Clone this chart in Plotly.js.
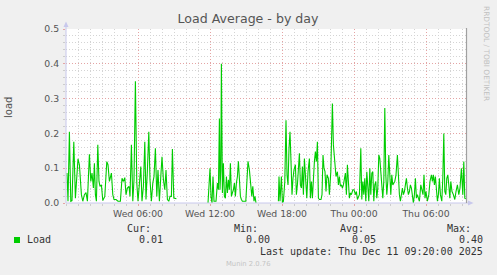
<!DOCTYPE html>
<html>
<head>
<meta charset="utf-8">
<script src="https://cdn.plot.ly/plotly-3.0.1.min.js"></script>
<style>html,body{margin:0;padding:0;background:#f0f0f0;}#chart{width:497px;height:275px;}</style>
</head>
<body>
<div id="chart"></div>
<script>
// Sample times: minutes since Wed 2025-12-10 00:00 (null load = no data)
const minutes = [
5,10,17,24,30,39,47,52,60,67,72,77,84,92,100,107,117,124,130,137,142,147,152,159,165,170,177,184,194,204,210,217,227,234,240,250,260,272,280,287,294,300,307,315,320,327,334,340,347,354,360,367,374,380,387,394,400,407,414,420,427,434,440,447,454,460,467,474,480,487,494,500,507,514,520,527,532,539,545,552,
560,
710,715,720,725,730,735,740,745,750,757,762,767,770,774,777,782,787,792,797,802,807,812,817,822,827,832,837,842,847,852,857,862,867,872,877,882,890,899,904,910,917,924,929,934,940,945,950,
960,
1062,1065,1070,1077,1082,1087,1094,1100,1105,1110,1115,1120,1125,1130,1135,1140,1147,1152,1157,1162,1167,1172,1177,1182,1187,1192,1197,1204,1210,1217,1222,1227,1232,1237,1242,1247,1252,1257,1262,1267,1275,1280,1285,1290,1295,1300,1305,
1312,1317,1324,1332,1337,1344,1350,1357,1362,1367,1372,1377,1382,1387,1392,1397,1402,1407,1412,1417,1422,1427,1434,1440,1447,1452,1457,1462,1467,1474,1479,1484,1489,1494,1499,1504,1509,1514,1519,1524,1529,1534,1539,1544,1549,1554,1559,1564,1569,1574,1579,1584,1589,1594,1599,1604,1609,1614,1619,1624,1629,1634,
1644,1650,1657,1662,1667,1672,1677,1682,1687,1692,1697,1702,1707,1712,1717,1722,1727,1732,1737,1742,1747,1752,1757,1762,1767,1774,1780,1785,1790,1795,1800,1807,1814,1820,1827,1832,1837,1842,1847,1852,1857,1862,1867,1872,1879,1884,1889,1894,1899,1904,1909,1914,1919,1924,1930,1937,1944,1950,1957,1964,1970,1977,1984,1989,1994,1999
];
const load = [
0.086,0.005,0.205,0.005,0.007,0.176,0.014,0.052,0.127,0.11,0.07,0.024,0.005,0.024,0.03,0.005,0.14,0.062,0.086,0.043,0.114,0.024,0.005,0.167,0.062,0.048,0.052,0.007,0.019,0.119,0.11,0.062,0.086,0.024,0.01,0.01,0.005,0.005,0.071,0.062,0.073,0.024,0.043,0.048,0.019,0.167,0.005,0.067,0.35,0.057,0.005,0.057,0.105,0.005,0.048,0.176,0.01,0.095,0.205,0.067,0.005,0.057,0.076,0.157,0.019,0.095,0.005,0.076,0.133,0.067,0.038,0.095,0.01,0.005,0.019,0.019,0.155,0.014,0.012,0.012,
null,
0.0,0.067,0.1,0.019,0.0,0.076,0.005,0.005,0.005,0.057,0.038,0.243,0.038,0.095,0.40,0.029,0.114,0.019,0.014,0.076,0.029,0.067,0.038,0.114,0.019,0.029,0.038,0.057,0.019,0.057,0.076,0.12,0.076,0.019,0.01,0.005,0.005,0.005,0.057,0.12,0.095,0.057,0.019,0.048,0.005,0.019,0.0,
null,
0.005,0.076,0.005,0.076,0.0,0.005,0.062,0.238,0.081,0.052,0.157,0.205,0.119,0.024,0.071,0.095,0.11,0.024,0.052,0.086,0.143,0.052,0.043,0.105,0.024,0.128,0.081,0.014,0.09,0.128,0.014,0.062,0.014,0.081,0.119,0.148,0.119,0.176,0.014,0.01,0.01,0.024,0.138,0.1,0.09,0.033,0.081,
0.071,0.024,0.09,0.286,0.167,0.128,0.076,0.09,0.052,0.076,0.048,0.052,0.043,0.052,0.071,0.086,0.024,0.11,0.062,0.014,0.029,0.024,0.038,0.038,0.024,0.033,0.01,0.019,0.024,0.157,0.01,0.062,0.024,0.071,0.005,0.09,0.024,0.005,0.1,0.024,0.086,0.09,0.005,0.052,0.062,0.014,0.043,0.138,0.128,0.09,0.043,0.014,0.062,0.273,0.081,0.024,0.062,0.138,0.081,0.024,0.081,0.052,
0.062,0.081,0.138,0.071,0.024,0.005,0.024,0.043,0.024,0.033,0.052,0.071,0.043,0.024,0.033,0.052,0.043,0.014,0.0,0.024,0.071,0.014,0.024,0.014,0.005,0.052,0.033,0.024,0.081,0.014,0.033,0.005,0.024,0.062,0.081,0.062,0.081,0.052,0.076,0.029,0.005,0.024,0.071,0.024,0.005,0.071,0.2,0.033,0.024,0.071,0.081,0.052,0.014,0.062,0.033,0.024,0.01,0.033,0.052,0.024,0.043,0.1,0.024,0.119,0.014,0.012
];
const xTickHours = [6, 12, 18, 24, 30];
const xTickLabels = ["Wed 06:00", "Wed 12:00", "Wed 18:00", "Thu 00:00", "Thu 06:00"];
const yTickVals = [0, 0.1, 0.2, 0.3, 0.4, 0.5];
const yTickLabels = ["0.0", "0.1", "0.2", "0.3", "0.4", "0.5"];
const seriesName = "Load";
const statHeads = ["Cur:", "Min:", "Avg:", "Max:"];
const statVals = ["0.01", "0.00", "0.05", "0.40"];
const lastUpdate = "Last update: Thu Dec 11 09:20:00 2025";

const L = 66, T = 29, W = 400, H = 174;
const px = x => (x - L) / W;
const py = y => (T + H - y) / H;

const green = '#00cc00';
const majorGrid = '#e4a4a4';
const minorGrid = '#d4d4d4';
const axisCol = '#c8c8ec';
const textCol = '#555555';
const mono = 'DejaVu Sans Mono, monospace';
const sans = 'DejaVu Sans, sans-serif';

const trace = {
  x: minutes.map(m => m / 60),
  y: load,
  type: 'scatter', mode: 'lines',
  line: {color: green, width: 1.1},
  connectgaps: false, hoverinfo: 'skip', showlegend: false
};

function ann(x, y, text, opts) {
  return Object.assign({xref: 'paper', yref: 'paper', x: px(x), y: py(y), text: text,
    showarrow: false, borderpad: 0, borderwidth: 0, yanchor: 'middle', xanchor: 'left',
    font: {family: mono, size: 10, color: '#333'}}, opts || {});
}

const annotations = [
  ann(9, 108, 'load', {xanchor: 'center', textangle: -90, font: {family: sans, size: 10, color: textCol}}),
  ann(487, 53, 'RRDTOOL / TOBI OETIKER', {xanchor: 'center', textangle: 90, font: {family: sans, size: 7.4, color: '#c0c0c0'}}),
  ann(26.5, 239.7, seriesName),
  ann(151, 228, statHeads[0], {xanchor: 'right'}),
  ann(257.5, 228, statHeads[1], {xanchor: 'right'}),
  ann(364, 228, statHeads[2], {xanchor: 'right'}),
  ann(470.5, 228, statHeads[3], {xanchor: 'right'}),
  ann(163, 239.7, statVals[0], {xanchor: 'right'}),
  ann(269.5, 239.7, statVals[1], {xanchor: 'right'}),
  ann(376, 239.7, statVals[2], {xanchor: 'right'}),
  ann(483, 239.7, statVals[3], {xanchor: 'right'}),
  ann(483, 251.7, lastUpdate, {xanchor: 'right'}),
  ann(248, 264, 'Munin 2.0.76', {xanchor: 'center', font: {family: sans, size: 6.8, color: '#c4c4c4'}})
];

function path(pts) {
  return 'M ' + pts.map(p => px(p[0]) + ' ' + py(p[1])).join(' L ') + ' Z';
}

const shapes = [
  // left axis extension + arrow
  {type: 'line', xref: 'paper', yref: 'paper', x0: px(66), x1: px(66), y0: py(203), y1: py(25), line: {color: axisCol, width: 1}},
  {type: 'path', xref: 'paper', yref: 'paper', path: path([[63.5, 27], [68.5, 27], [66, 21.5]]), fillcolor: axisCol, line: {width: 0}},
  // bottom axis extension + arrow
  {type: 'line', xref: 'paper', yref: 'paper', x0: px(66), x1: px(470), y0: py(203), y1: py(203), line: {color: axisCol, width: 1}},
  {type: 'path', xref: 'paper', yref: 'paper', path: path([[468, 200.5], [468, 205.5], [473.5, 203]]), fillcolor: axisCol, line: {width: 0}},
  // right edge marker
  {type: 'line', xref: 'paper', yref: 'paper', x0: px(466.5), x1: px(466.5), y0: py(203), y1: py(28), line: {color: '#a0a0a0', width: 1.2}},
  // legend swatch
  {type: 'rect', xref: 'paper', yref: 'paper', x0: px(14), x1: px(20), y0: py(243), y1: py(237), fillcolor: green, line: {width: 0}}
];

const layout = {
  width: 497, height: 275,
  margin: {l: L, r: 497 - L - W, t: T, b: 275 - T - H, pad: 0},
  paper_bgcolor: '#f0f0f0', plot_bgcolor: '#ffffff',
  title: {text: 'Load Average - by day', xref: 'container', yref: 'container', x: 248 / 497, y: 1 - 19 / 275,
    xanchor: 'center', yanchor: 'middle', font: {family: sans, size: 12.6, color: textCol}},
  xaxis: {
    range: [0, 2000 / 60], tickmode: 'array', tickvals: xTickHours, ticktext: xTickLabels,
    showgrid: true, gridcolor: majorGrid, griddash: '1px,2px', gridwidth: 1,
    ticks: 'outside', ticklen: 2, tickcolor: majorGrid, tickwidth: 1,
    minor: {tick0: 0, dtick: 1, showgrid: true, gridcolor: minorGrid, griddash: '1px,2px', gridwidth: 1, ticks: 'outside', ticklen: 2, tickcolor: '#cccccc'},
    showline: false, zeroline: false, fixedrange: true,
    tickfont: {family: sans, size: 9.3, color: textCol}
  },
  yaxis: {
    range: [0, 0.5], tickmode: 'array', tickvals: yTickVals, ticktext: yTickLabels,
    showgrid: true, gridcolor: majorGrid, griddash: '1px,2px', gridwidth: 1,
    ticks: 'outside', ticklen: 2, tickcolor: majorGrid, tickwidth: 1,
    minor: {tick0: 0, dtick: 0.02, showgrid: true, gridcolor: minorGrid, griddash: '1px,2px', gridwidth: 1, ticks: 'outside', ticklen: 2, tickcolor: '#cccccc'},
    showline: false, zeroline: false, fixedrange: true, ticklabelstandoff: 2,
    tickfont: {family: sans, size: 9.3, color: textCol}
  },
  annotations: annotations,
  shapes: shapes,
  showlegend: false
};

Plotly.newPlot('chart', [trace], layout, {displayModeBar: false, staticPlot: true});
</script>
</body>
</html>
